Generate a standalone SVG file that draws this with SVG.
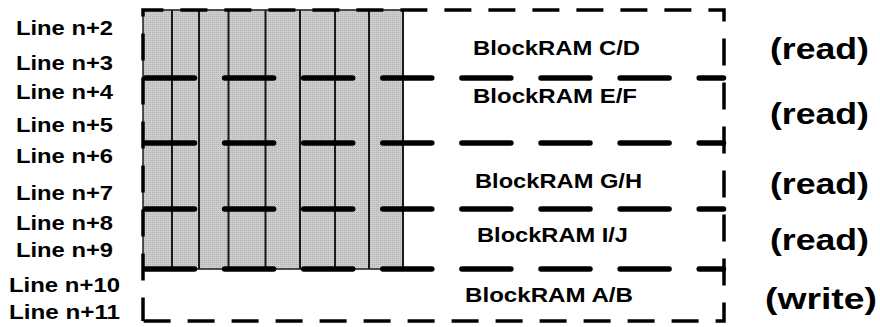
<svg xmlns="http://www.w3.org/2000/svg" width="880" height="327" viewBox="0 0 880 327">
<defs>
<pattern id="dots" width="2" height="2" patternUnits="userSpaceOnUse">
<rect width="2" height="2" fill="#cdcdcd"/>
<rect width="1" height="1" fill="#b2b2b2"/>
</pattern>
</defs>
<style>
text{font-family:"Liberation Sans",Arial,sans-serif;font-weight:bold;fill:#000}
.ll{font-size:20.5px;text-anchor:middle}
.bl{font-size:21px}
.rw{font-size:30px}
.vl{stroke:#1a1a1a;stroke-width:2;fill:none}
.thick{stroke:#000;stroke-width:5.5;stroke-linecap:round;stroke-dasharray:49 30.1;fill:none}
.border{stroke:#000;stroke-width:3.5;fill:none;stroke-dasharray:27 17;stroke-dashoffset:3.6}
</style>
<rect width="880" height="327" fill="#fff"/>
<g id="bram-array">
<rect x="143" y="10" width="260" height="259" fill="url(#dots)" stroke="#1a1a1a" stroke-width="1.5"/>
<path class="vl" d="M172,10V269M199,10V269M228.5,10V269M265.5,10V269M300,10V269M335,10V269M369,10V269M403,10V269"/>
</g>
<g id="connectors">
<path class="border" d="M143,321V10H724V321Z"/>
<path class="thick" d="M145.5,78H723.5M145.5,143H723.5M145.5,209H723.5M145.5,269H723.5"/>
</g>
<g id="line-labels">
<text class="ll" x="64.5" y="35" textLength="97" lengthAdjust="spacingAndGlyphs">Line n+2</text>
<text class="ll" x="64.5" y="70" textLength="97" lengthAdjust="spacingAndGlyphs">Line n+3</text>
<text class="ll" x="64.5" y="99" textLength="97" lengthAdjust="spacingAndGlyphs">Line n+4</text>
<text class="ll" x="64.5" y="132" textLength="97" lengthAdjust="spacingAndGlyphs">Line n+5</text>
<text class="ll" x="64.5" y="163" textLength="97" lengthAdjust="spacingAndGlyphs">Line n+6</text>
<text class="ll" x="64.5" y="200" textLength="97" lengthAdjust="spacingAndGlyphs">Line n+7</text>
<text class="ll" x="64.5" y="230" textLength="97" lengthAdjust="spacingAndGlyphs">Line n+8</text>
<text class="ll" x="64.5" y="257" textLength="97" lengthAdjust="spacingAndGlyphs">Line n+9</text>
<text class="ll" x="64.5" y="292" textLength="111" lengthAdjust="spacingAndGlyphs">Line n+10</text>
<text class="ll" x="64.5" y="319" textLength="111" lengthAdjust="spacingAndGlyphs">Line n+11</text>
</g>
<g id="block-cd">
<text class="bl" x="473" y="55" textLength="167" lengthAdjust="spacingAndGlyphs">BlockRAM C/D</text>
<text class="rw" x="770" y="59" textLength="99" lengthAdjust="spacingAndGlyphs">(read)</text>
</g>
<g id="block-ef">
<text class="bl" x="473" y="103" textLength="164" lengthAdjust="spacingAndGlyphs">BlockRAM E/F</text>
<text class="rw" x="770" y="124" textLength="99" lengthAdjust="spacingAndGlyphs">(read)</text>
</g>
<g id="block-gh">
<text class="bl" x="475" y="188" textLength="167" lengthAdjust="spacingAndGlyphs">BlockRAM G/H</text>
<text class="rw" x="770" y="194" textLength="99" lengthAdjust="spacingAndGlyphs">(read)</text>
</g>
<g id="block-ij">
<text class="bl" x="477" y="242" textLength="151" lengthAdjust="spacingAndGlyphs">BlockRAM I/J</text>
<text class="rw" x="770" y="250" textLength="99" lengthAdjust="spacingAndGlyphs">(read)</text>
</g>
<g id="block-ab">
<text class="bl" x="465" y="302" textLength="168" lengthAdjust="spacingAndGlyphs">BlockRAM A/B</text>
<text class="rw" x="765" y="309" textLength="112" lengthAdjust="spacingAndGlyphs">(write)</text>
</g>
</svg>
